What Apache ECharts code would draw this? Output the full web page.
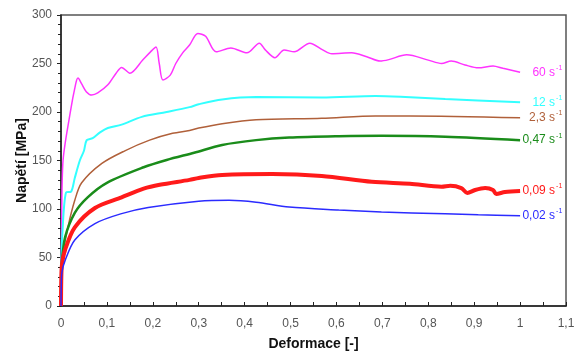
<!DOCTYPE html>
<html><head><meta charset="utf-8">
<script src="https://cdn.jsdelivr.net/npm/echarts@6/dist/echarts.min.js"></script>
<style>html,body{margin:0;padding:0;background:#fff}#c{width:576px;height:351px}</style>
</head><body><div id="c"></div>
<script>
const xTicks = [0,0.1,0.2,0.3,0.4,0.5,0.6,0.7,0.8,0.9,1,1.1];
const yTicks = [0,50,100,150,200,250,300];
const labels = ['60 s','12 s','2,3 s','0,47 s','0,09 s','0,02 s'];

const rate60 = [[0,0],[0.001,60],[0.004,147],[0.02,199],[0.032,229],[0.037,235],[0.045,229],[0.055,221],[0.067,217.5],[0.08,219.6],[0.102,228],[0.12,240],[0.132,246],[0.15,240],[0.178,253.6],[0.195,262],[0.207,267],[0.214,250],[0.222,233],[0.238,238],[0.25,250],[0.265,261],[0.28,269],[0.298,281],[0.315,278],[0.338,262],[0.37,266],[0.405,261],[0.432,271],[0.445,264],[0.466,256],[0.486,264],[0.508,262],[0.542,271],[0.57,264],[0.59,260],[0.633,261],[0.666,257],[0.695,252.5],[0.714,254],[0.753,259],[0.8,253.5],[0.829,250],[0.85,252.5],[0.88,248.5],[0.909,245.5],[0.941,247.5],[0.963,245],[1.0,241]];
const rate12 = [[0,0],[0.0005,40],[0.003,75],[0.011,117],[0.022,118],[0.03,132],[0.041,150],[0.05,160],[0.056,171],[0.069,173],[0.085,179],[0.102,183.5],[0.132,187],[0.176,195],[0.23,200],[0.28,205],[0.3,208],[0.351,213],[0.425,215.5],[0.568,215],[0.685,216.5],[0.75,215.5],[0.837,213.5],[1.0,210]];
const rate2_3 = [[0,0],[0.0005,30],[0.003,50],[0.015,81],[0.03,109],[0.045,127],[0.089,147],[0.139,160],[0.193,171],[0.243,178],[0.28,181],[0.3,183.5],[0.351,188],[0.425,192],[0.568,193.5],[0.685,196],[0.76,196],[1.0,194]];
const rate0_47 = [[0,0],[0.0005,25],[0.002,45],[0.009,71],[0.03,96],[0.058,112],[0.1,127],[0.18,143],[0.23,150.5],[0.29,158],[0.351,166],[0.425,171],[0.497,173.6],[0.605,175],[0.698,175.5],[0.837,174.6],[1.0,171]];
const rate0_09 = [[0,0],[0.0005,25],[0.002,42],[0.009,58],[0.03,81],[0.074,101],[0.132,112],[0.18,121],[0.215,125],[0.28,130],[0.3,132],[0.351,135],[0.46,136],[0.568,134],[0.677,128],[0.76,126],[0.829,123],[0.848,124],[0.872,121.6],[0.885,116.5],[0.902,119.6],[0.924,121.6],[0.941,119.6],[0.948,115.5],[0.967,117.5],[1.0,118.5]];
const rate0_02 = [[0,0],[0.0005,20],[0.002,35],[0.009,47],[0.03,68],[0.074,85],[0.13,95],[0.19,101.5],[0.3,108],[0.366,109],[0.425,107],[0.497,102],[0.605,99],[0.698,97],[0.764,96],[0.909,94],[1.0,93]];

const seriesData = [rate60, rate12, rate2_3, rate0_47, rate0_09, rate0_02];
const colors = ['#ff33ff','#33ffff','#b0603a','#1a8c1a','#ff1a1a','#2b2bff'];
const widths = [1.5, 2, 1.5, 2.5, 4, 1.5];

const FONT = 'Liberation Sans';
const ctx = document.createElement('canvas').getContext('2d');
ctx.font = '12px ' + FONT;
const labelRight = 35;

const chart = echarts.init(document.getElementById('c'));
chart.setOption({
  animation: false,
  grid: {left: 61, right: 10, top: 15, bottom: 45, show: true, borderColor: '#555', borderWidth: 1.5,
         containLabel: false, outerBoundsMode: 'none'},
  xAxis: {
    type: 'value', min: 0, max: 1.1, interval: 0.1,
    name: 'Deformace [-]', nameLocation: 'middle', nameGap: 31, nameMoveOverlap: false,
    nameTextStyle: {fontFamily: FONT, fontWeight: 'bold', fontSize: 14, color: '#111'},
    axisLine: {lineStyle: {color: '#222', width: 1.5}},
    axisTick: {inside: true, length: 4, lineStyle: {color: '#222'}},
    minorTick: {show: true, splitNumber: 2, length: 4, lineStyle: {color: '#222'}},
    splitLine: {show: false},
    axisLabel: {fontFamily: FONT, fontSize: 12, color: '#555', margin: 12,
      formatter: v => { const t = xTicks.find(k => Math.abs(k - v) < 1e-6); return (t === undefined ? v : t).toString().replace('.', ','); }}
  },
  yAxis: {
    type: 'value', min: 0, max: 300, interval: 50,
    name: 'Napětí [MPa]', nameLocation: 'middle', nameGap: 32, nameMoveOverlap: false,
    nameTextStyle: {fontFamily: FONT, fontWeight: 'bold', fontSize: 14, color: '#111'},
    axisLine: {lineStyle: {color: '#222', width: 1.5}},
    axisTick: {length: 4, lineStyle: {color: '#222'}},
    minorTick: {show: true, splitNumber: 5, length: 3, lineStyle: {color: '#222'}},
    splitLine: {show: false},
    axisLabel: {fontFamily: FONT, fontSize: 12, color: '#555', margin: 9,
      formatter: v => String(yTicks.find(k => Math.abs(k - v) < 1e-6) ?? v)}
  },
  series: seriesData.map((d, i) => ({
    type: 'line', data: d, smooth: 0.3, showSymbol: false, symbol: 'none',
    lineStyle: {color: colors[i], width: widths[i]},
    endLabel: {
      show: true, distance: Math.max(1, labelRight - ctx.measureText(labels[i]).width),
      formatter: '{t|' + labels[i] + '}{s|-1}',
      rich: {
        t: {fontFamily: FONT, fontSize: 12, color: colors[i]},
        s: {fontFamily: FONT, fontSize: 7, color: colors[i], padding: [0, 0, 9, 1]}
      }
    }
  }))
});
</script></body></html>
